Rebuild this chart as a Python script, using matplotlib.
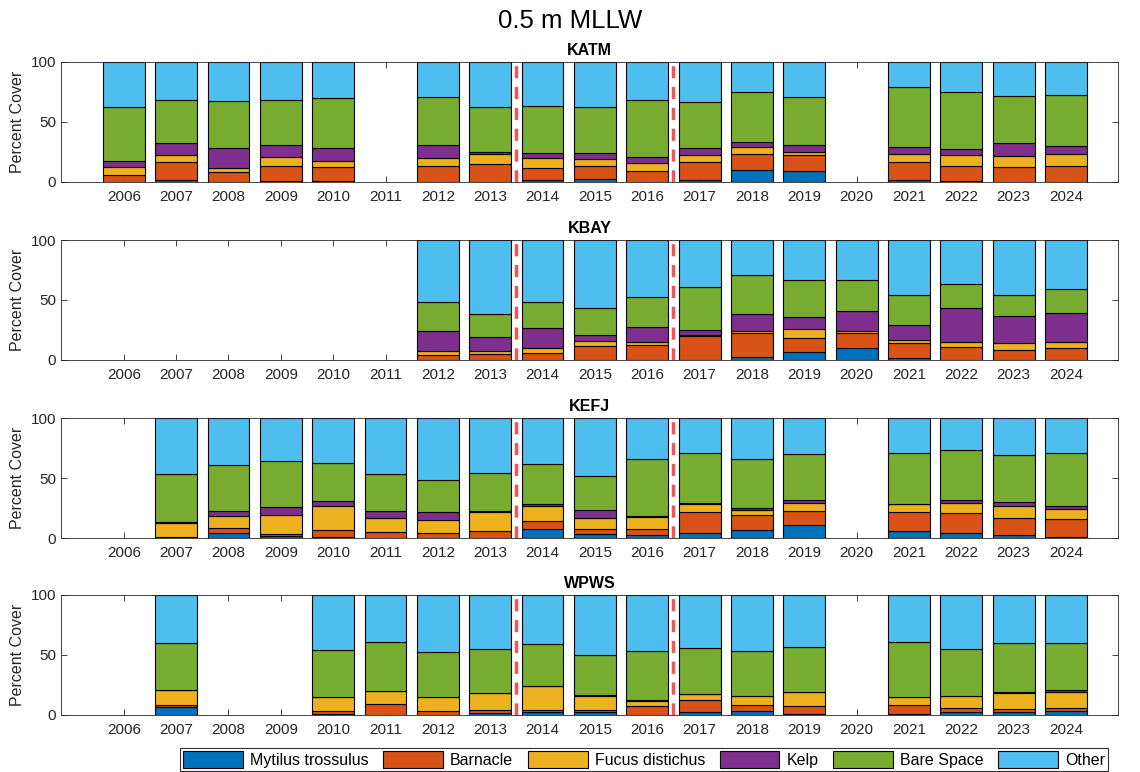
#
#   plot.py
#   percent cover at 0.5 m MLLW, stacked bars per site
#

import numpy as np
import matplotlib
matplotlib.use('Agg')
import matplotlib.pyplot as plt

nan = np.nan

years = list(range(2006, 2025))
species = ['Mytilus trossulus', 'Barnacle', 'Fucus distichus', 'Kelp', 'Bare Space', 'Other']
colors = ['#0072BD', '#D95319', '#EDB120', '#7E2F8E', '#77AC30', '#4DBEEE']
sites = ['KATM', 'KBAY', 'KEFJ', 'WPWS']

# KATM
katm_myt   = [0, 1.4, 0, 0.5, 1.0, nan, 0, 0, 1.4, 2.2, 0, 1.7, 10.3, 9.4, nan, 1.7, 1.1, 0, 0]
katm_barn  = [5.8, 15.0, 8.6, 12.8, 11.7, nan, 13.6, 14.7, 10.5, 11.1, 9.4, 15.0, 13.3, 12.8, nan, 14.7, 12.5, 12.2, 13.3]
katm_fucus = [7.0, 6.4, 2.8, 7.3, 4.7, nan, 6.7, 8.3, 7.8, 6.1, 6.2, 5.8, 5.8, 3.1, nan, 6.9, 8.9, 9.7, 10.3]
katm_kelp  = [4.7, 10.0, 16.6, 10.2, 10.5, nan, 10.5, 2.0, 4.2, 4.5, 5.0, 6.1, 4.2, 5.5, nan, 6.1, 5.0, 10.9, 6.1]
katm_bare  = [44.7, 35.5, 39.5, 37.5, 41.7, nan, 40.0, 37.2, 39.4, 38.3, 47.7, 37.8, 41.1, 39.8, nan, 49.5, 47.2, 38.9, 42.8]
katm_other = [37.8, 31.7, 32.5, 31.7, 30.4, nan, 29.2, 37.8, 36.7, 37.8, 31.7, 33.6, 25.3, 29.4, nan, 21.1, 25.3, 28.3, 27.5]

# KBAY
kbay_myt   = [nan]*6 + [0, 0, 0, 0, 0, 0, 2.5, 6.4, 10.3, 1.9, 0, 0, 0]
kbay_barn  = [nan]*6 + [3.9, 4.7, 5.8, 11.4, 12.8, 19.7, 20.3, 12.2, 12.5, 12.5, 10.8, 8.3, 9.7]
kbay_fucus = [nan]*6 + [3.9, 2.8, 4.5, 4.2, 2.5, 0.9, 1.4, 7.0, 1.4, 2.0, 4.5, 5.9, 5.6]
kbay_kelp  = [nan]*6 + [16.1, 11.9, 16.4, 5.0, 12.5, 4.1, 13.9, 10.5, 16.6, 12.5, 27.7, 22.7, 23.6]
kbay_bare  = [nan]*6 + [24.2, 18.7, 21.4, 22.4, 24.7, 36.1, 32.7, 30.6, 25.9, 25.3, 20.6, 17.3, 20.5]
kbay_other = [nan]*6 + [51.9, 61.9, 51.9, 57.0, 47.5, 39.2, 29.2, 33.3, 33.3, 45.8, 36.4, 45.8, 40.6]

# KEFJ
kefj_myt   = [nan, 0, 4.2, 1.4, 0.6, 0, 0, 0, 7.8, 3.1, 2.2, 3.9, 6.7, 10.6, nan, 6.1, 3.9, 2.8, 0.8]
kefj_barn  = [nan, 1.1, 4.1, 1.7, 6.3, 5.3, 4.2, 6.1, 6.6, 4.4, 5.0, 17.5, 12.7, 11.6, nan, 15.3, 16.7, 13.6, 14.8]
kefj_fucus = [nan, 11.1, 9.8, 15.8, 20.0, 11.6, 10.8, 15.5, 12.5, 9.4, 10.0, 6.7, 3.7, 7.2, nan, 6.9, 8.6, 10.5, 8.6]
kefj_kelp  = [nan, 0.9, 4.1, 7.2, 4.2, 5.3, 6.4, 0.8, 1.7, 6.4, 1.1, 1.3, 2.2, 2.0, nan, 0.3, 2.5, 3.1, 2.2]
kefj_bare  = [nan, 40.5, 38.6, 37.8, 31.7, 30.9, 27.2, 31.4, 33.3, 28.6, 47.8, 41.4, 40.5, 38.6, nan, 42.5, 41.6, 39.2, 44.7]
kefj_other = [nan, 46.4, 39.2, 36.1, 37.2, 46.9, 51.4, 46.2, 38.1, 48.1, 33.9, 29.2, 34.2, 30.0, nan, 28.9, 26.7, 30.8, 28.9]

# WPWS
wpws_myt   = [nan, 6.9, nan, nan, 1.0, 0, 0, 1.9, 2.2, 2.2, 0, 2.2, 3.6, 0.8, nan, 0.8, 2.8, 2.5, 3.1]
wpws_barn  = [nan, 1.4, nan, nan, 2.6, 9.2, 3.6, 2.5, 2.0, 2.2, 7.5, 10.3, 4.7, 6.7, nan, 7.5, 3.3, 2.8, 2.5]
wpws_fucus = [nan, 12.3, nan, nan, 11.4, 11.1, 11.4, 13.7, 20.0, 11.2, 3.9, 5.0, 7.8, 11.9, nan, 6.7, 10.0, 13.3, 13.8]
wpws_kelp  = [nan, 0, nan, nan, 0, 0, 0, 0, 0, 0.8, 0.8, 0, 0, 0, nan, 0, 0, 0.8, 1.2]
wpws_bare  = [nan, 39.7, nan, nan, 38.9, 40.8, 37.2, 36.9, 34.7, 33.3, 40.9, 38.3, 37.0, 37.3, nan, 46.1, 38.9, 40.9, 39.7]
wpws_other = [nan, 39.7, nan, nan, 46.1, 38.9, 47.8, 45.0, 41.1, 50.3, 46.9, 44.2, 46.9, 43.3, nan, 38.9, 45.0, 39.7, 39.7]

site_data = {
    'KATM': [katm_myt, katm_barn, katm_fucus, katm_kelp, katm_bare, katm_other],
    'KBAY': [kbay_myt, kbay_barn, kbay_fucus, kbay_kelp, kbay_bare, kbay_other],
    'KEFJ': [kefj_myt, kefj_barn, kefj_fucus, kefj_kelp, kefj_bare, kefj_other],
    'WPWS': [wpws_myt, wpws_barn, wpws_fucus, wpws_kelp, wpws_bare, wpws_other],
}

event_lines = [2013.5, 2016.5]

plt.rcParams['font.family'] = ['Liberation Sans', 'DejaVu Sans']

fig = plt.figure(figsize=(11.4, 7.72), dpi=100)
fig.suptitle('0.5 m MLLW', fontsize=18.5, y=0.988)

# axes positions in figure fraction
tops = [0.9197, 0.6891, 0.4585, 0.2293]
h = 0.1554
left, width = 0.0535, 0.9275

handles = None
for site, top in zip(sites, tops):
    ax = fig.add_axes([left, top - h, width, h])
    bottom = np.zeros(len(years))
    bars = []
    for vals, col, name in zip(site_data[site], colors, species):
        v = np.array(vals, dtype=float)
        b = ax.bar(years, v, width=0.8, bottom=bottom, color=col,
                   edgecolor='black', linewidth=0.8, label=name, zorder=2)
        bars.append(b)
        bottom = bottom + v
    if handles is None:
        handles = bars

    for xl in event_lines:
        ax.axvline(xl, color='#f25555', lw=2.5, ls=(0, (3.5, 2.5)), zorder=3)

    ax.set_xlim(2004.8, 2025.0)
    ax.set_ylim(0, 100)
    ax.set_xticks(years)
    ax.set_yticks([0, 50, 100])
    ax.tick_params(direction='in', top=True, right=True, length=4,
                   labelsize=11, colors='#262626', width=0.6)
    ax.tick_params(axis='x', pad=6)
    for s in ax.spines.values():
        s.set_color('#262626')
        s.set_linewidth(0.6)
    ax.set_ylabel('Percent Cover', fontsize=11.5, color='#262626')
    ax.set_title(site, fontsize=11.5, fontweight='bold', pad=5)

leg = fig.legend(handles, species, loc='lower center', ncol=6,
                 bbox_to_anchor=(0.565, -0.003), fontsize=11.5,
                 frameon=True, fancybox=False, edgecolor='black',
                 handlelength=3.75, handleheight=1.2, columnspacing=0.9,
                 handletextpad=0.45, borderpad=0.2, borderaxespad=0.2)
leg.get_frame().set_linewidth(0.8)

plt.savefig('out.png', dpi=100)
